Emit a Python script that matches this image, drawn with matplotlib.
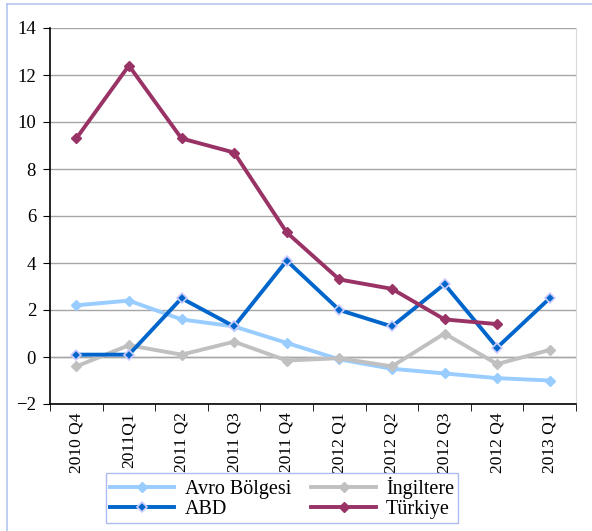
import numpy as np
import matplotlib.pyplot as plt
from matplotlib.ticker import MultipleLocator, FixedLocator
from matplotlib.lines import Line2D

plt.rcParams['font.family'] = ['Liberation Serif', 'DejaVu Serif']

quarters = ['2010 Q4', '2011Q1', '2011 Q2', '2011 Q3', '2011 Q4',
            '2012 Q1', '2012 Q2', '2012 Q3', '2012 Q4', '2013 Q1']
avro = [2.2, 2.4, 1.6, 1.3, 0.6, -0.1, -0.5, -0.7, -0.9, -1.0]
ingiltere = [-0.4, 0.5, 0.1, 0.65, -0.15, -0.05, -0.4, 1.0, -0.3, 0.3]
abd = [0.1, 0.1, 2.5, 1.3, 4.1, 2.0, 1.3, 3.1, 0.4, 2.5]
turkiye = [9.3, 12.4, 9.3, 8.7, 5.3, 3.3, 2.9, 1.6, 1.4, np.nan]

fig = plt.figure(figsize=(5.92, 5.31), dpi=100)
ax = fig.add_axes([50/592, 1 - 404/531, 526/592, 376/531])

x = np.arange(len(quarters))
lw = 2.8
l1, = ax.plot(x, avro, color='#99CCFF', lw=lw, marker='D', ms=5, mfc='#99CCFF', mec='#99CCFF', label='Avro Bölgesi', zorder=3)
l2, = ax.plot(x, ingiltere, color='#C0C0C0', lw=lw, marker='D', ms=5, mfc='#C0C0C0', mec='#C0C0C0', label='İngiltere', zorder=3)
l3, = ax.plot(x, abd, color='#0066CC', lw=lw, marker='D', ms=5, mfc='#0066CC', mec='#CCCCFF', mew=1.2, label='ABD', zorder=4)
l4, = ax.plot(x, turkiye, color='#993366', lw=lw, marker='D', ms=5, mfc='#993366', mec='#993366', label='Türkiye', zorder=5)

ax.set_xlim(-0.5, len(quarters) - 0.5)
ax.set_ylim(-2, 14)
ax.yaxis.set_major_locator(MultipleLocator(2))
ax.grid(axis='y', color='#A6A6A6', lw=1)
ax.set_axisbelow(True)

ax.set_xticks(x)
ax.set_xticklabels(quarters, rotation=90, fontsize=12.5)
ax.tick_params(axis='x', length=0, pad=6)
ax.xaxis.set_minor_locator(FixedLocator(np.arange(-0.5, len(quarters), 1)))
ax.tick_params(axis='x', which='minor', length=5, color='black')
ax.tick_params(axis='y', length=5, labelsize=13.5, pad=5)

ax.spines['top'].set_visible(False)
ax.spines['right'].set_color('#D9D9D9')
ax.spines['left'].set_linewidth(1.2)
ax.spines['bottom'].set_linewidth(1.2)
ax.axhline(0, color='#A6A6A6', lw=1, zorder=1)

# matplotlib fills legend columns first, so reorder for row-wise layout
leg = fig.legend([l1, l3, l2, l4], ['Avro Bölgesi', 'ABD', 'İngiltere', 'Türkiye'],
                 loc='lower left', bbox_to_anchor=(106/592, 1 - 523/531, 352/592, 50/531),
                 mode='expand', ncol=2, fontsize=14.5, frameon=True, fancybox=False,
                 borderpad=0.2, borderaxespad=0, handlelength=3.2, handletextpad=0.5,
                 labelspacing=0.05, columnspacing=1.0)
leg.get_frame().set_edgecolor('#99AAEE')
leg.get_frame().set_linewidth(1)

# outer chart-area border (left and top)
fig.add_artist(Line2D([7/592, 7/592], [0, 1 - 4/531], color='#B4C7F0', lw=1.2))
fig.add_artist(Line2D([7/592, 1], [1 - 4/531, 1 - 4/531], color='#B4C7F0', lw=1.2))

fig.savefig('out.png', dpi=100)
